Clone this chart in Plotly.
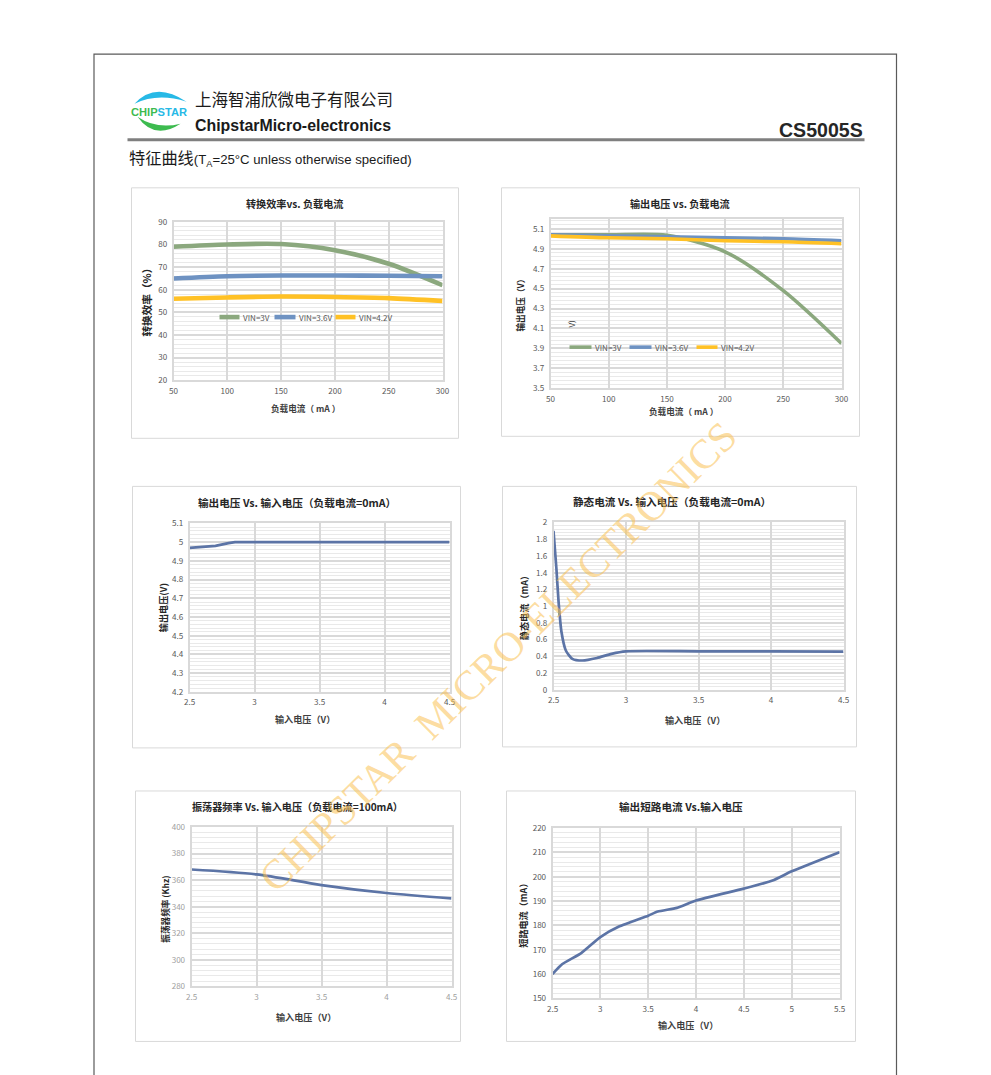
import plotly.graph_objects as go

W, H = 991, 1075
# the photographed page shows the figure inset by ~6.5 px and scaled by 978/991;
# map intended screen pixels to paper fractions accordingly
INSET = 6.5
SX = (W - 2 * INSET) / W


def px(x):
    return (x - INSET) / (W - 2 * INSET)


def py(y):
    return 1 - (y - INSET) / (H - 2 * INSET)


def fs(s):
    return s / SX


# ---------------- data ----------------
load_ma = [50, 100, 150, 200, 250, 300]
eff_vin3 = [79, 80, 80.2, 77.5, 71.5, 62]
eff_vin36 = [65, 66, 66.3, 66.3, 66.2, 66]
eff_vin42 = [56, 56.6, 57, 56.8, 56.3, 55]

vout_vin3 = [5.04, 5.04, 5.035, 4.87, 4.48, 3.95]
vout_vin36 = [5.04, 5.03, 5.02, 5.01, 5.0, 4.98]
vout_vin42 = [5.03, 5.01, 5.0, 4.98, 4.97, 4.95]

vin_line = [2.5, 2.6, 2.7, 2.8, 2.85, 3.0, 3.5, 4.0, 4.5]
vout_line = [4.97, 4.975, 4.98, 4.995, 5.0, 5.0, 5.0, 5.0, 5.0]

vin_iq = [2.5, 2.52, 2.535, 2.555, 2.585, 2.63, 2.7, 2.8, 2.9, 3.0, 3.5, 4.0, 4.5]
iq_ma = [1.9, 1.45, 1.05, 0.69, 0.47, 0.37, 0.35, 0.38, 0.43, 0.46, 0.46, 0.46, 0.455]

vin_osc = [2.5, 3.0, 3.5, 4.0, 4.5]
osc_khz = [368, 364.3, 356.3, 350.3, 346.3]

vin_sc = [2.5, 2.6, 2.8, 3.0, 3.2, 3.5, 3.6, 3.8, 4.0, 4.5, 4.8, 5.0, 5.5]
isc_ma = [160, 164, 168.6, 175.2, 179.6, 184, 185.7, 187.2, 190.2, 195.1, 198.4, 202.2, 210.1]

legend_names = ["VIN=3V", "VIN=3.6V", "VIN=4.2V"]

# ---------------- styles ----------------
CJK = "Noto Sans CJK SC"
GREEN = "#8BA87E"
BLUE = "#6E92C2"
GOLD = "#FFC125"
SLATE = "#5C74A6"
MAJ = "#d9d9d9"
MIN = "#e9e9e9"
TICK = "#595959"

fig = go.Figure()


def add_line(i, x, y, color, width, smoothing=0.8, shape="spline"):
    fig.add_trace(go.Scatter(
        x=x, y=y, mode="lines", xaxis="x" if i == 1 else f"x{i}",
        yaxis="y" if i == 1 else f"y{i}",
        line=dict(color=color, width=width, shape=shape, smoothing=smoothing),
        showlegend=False, hoverinfo="skip"))


add_line(1, load_ma, eff_vin3, GREEN, 4.6)
add_line(1, load_ma, eff_vin36, BLUE, 4.6)
add_line(1, load_ma, eff_vin42, GOLD, 4.6)
add_line(2, load_ma, vout_vin3, GREEN, 3.6)
add_line(2, load_ma, vout_vin36, BLUE, 3.6)
add_line(2, load_ma, vout_vin42, GOLD, 3.6)
add_line(3, vin_line, vout_line, SLATE, 2.7, shape="linear")
add_line(4, vin_iq, iq_ma, SLATE, 2.7, smoothing=0.6)
add_line(5, vin_osc, osc_khz, SLATE, 2.7)
add_line(6, vin_sc, isc_ma, SLATE, 2.7, smoothing=0.5)

layout = dict(
    width=W, height=H, margin=dict(l=0, r=0, t=0, b=0, pad=0),
    paper_bgcolor="white", plot_bgcolor="white", showlegend=False,
    font=dict(family=CJK),
)


def axes(i, xpx, ypx, xr, xd, yr, yd, ymin, tickcolor=TICK):
    sx = "" if i == 1 else str(i)
    xa = dict(
        domain=[px(xpx[0]), px(xpx[1])], range=xr, dtick=xd, tick0=xr[0],
        anchor="y" + sx, showgrid=True, gridcolor=MAJ, gridwidth=1.5,
        showline=True, linecolor=MAJ, linewidth=1.5, mirror=True,
        zeroline=False, ticks="", tickfont=dict(family=CJK, size=fs(8), color=tickcolor),
        ticklabelstandoff=2,
    )
    ya = dict(
        domain=[py(ypx[1]), py(ypx[0])], range=yr, dtick=yd, tick0=yr[0],
        anchor="x" + sx, showgrid=True, gridcolor=MAJ, gridwidth=1.5,
        showline=True, linecolor=MAJ, linewidth=1.5, mirror=True,
        zeroline=False, ticks="", tickfont=dict(family=CJK, size=fs(8), color=tickcolor),
        minor=dict(dtick=ymin, tick0=yr[0], showgrid=True, gridcolor=MIN, gridwidth=1),
        ticklabelstandoff=3,
    )
    layout["xaxis" + sx] = xa
    layout["yaxis" + sx] = ya


axes(1, (174, 443), (222, 380), [50, 300], 50, [20, 90], 10, 2)
axes(2, (551, 842), (219, 388), [50, 300], 50, [3.5, 5.2], 0.2, 0.04)
axes(3, (190, 450), (523, 691), [2.5, 4.5], 0.5, [4.2, 5.1], 0.1, 0.02)
axes(4, (554, 844), (522, 689), [2.5, 4.5], 0.5, [0, 2], 0.2, 0.04)
axes(5, (192, 452), (826, 985), [2.5, 4.5], 0.5, [280, 400], 20, 4, tickcolor="#a0a0a0")
axes(6, (553, 840), (827, 997), [2.5, 5.5], 0.5, [150, 220], 10, 2)

shapes = []
annotations = []


def rect(x0, y0, x1, y1, color=MAJ, width=1):
    shapes.append(dict(type="rect", xref="paper", yref="paper",
                       x0=px(x0), x1=px(x1), y0=py(y1), y1=py(y0),
                       line=dict(color=color, width=width), layer="below"))


def text(x, y, s, size=9, color="#262626", bold=False, xanchor="center",
         yanchor="middle", angle=0, family=CJK):
    annotations.append(dict(
        x=px(x), y=py(y), xref="paper", yref="paper", showarrow=False,
        text=("<b>%s</b>" % s) if bold else s, xanchor=xanchor, yanchor=yanchor,
        textangle=angle, font=dict(family=family, size=fs(size), color=color)))


# page border
shapes.append(dict(type="rect", xref="paper", yref="paper",
                   x0=px(94.5), x1=px(897), y0=py(1095), y1=py(54.5),
                   line=dict(color="#5a5a5a", width=1.2), layer="below"))
# header rule
shapes.append(dict(type="line", xref="paper", yref="paper",
                   x0=px(128), x1=px(865), y0=py(140), y1=py(140),
                   line=dict(color="#7f7f7f", width=3)))


def path_px(pts):
    out = []
    for cmd, coords in pts:
        vals = []
        for k in range(0, len(coords), 2):
            vals.append("%.5f,%.5f" % (px(coords[k]), py(coords[k + 1])))
        out.append(cmd + " " + " ".join(vals))
    return " ".join(out) + " Z"


# logo arcs
shapes.append(dict(type="path", xref="paper", yref="paper",
                   path=path_px([("M", (135, 104)), ("Q", (156, 81, 187, 102)),
                                 ("Q", (158, 93, 135, 104))]),
                   fillcolor="#27b9e6", line=dict(width=0)))
shapes.append(dict(type="path", xref="paper", yref="paper",
                   path=path_px([("M", (138, 117)), ("Q", (155, 141, 181, 124)),
                                 ("Q", (157, 130, 138, 117))]),
                   fillcolor="#3dbb4f", line=dict(width=0)))
text(159, 112, "<span style='color:#3dbb4f'>CHIP</span><span style='color:#27b9e6'>STAR</span>",
     size=11, bold=True, family="Liberation Sans")

text(193, 113.5, "上海智浦欣微电子有限公司", size=16.3, color="#1a1a1a",
     xanchor="left", yanchor="bottom")
text(193, 115.5, "ChipstarMicro-electronics", size=15.7, color="#1a1a1a", bold=True,
     xanchor="left", yanchor="top", family="Liberation Sans")
text(865, 130, "CS5005S", size=19.3, color="#262626", bold=True, xanchor="right",
     family="Liberation Sans")
text(127, 157, "特征曲线<span style='font-size:%.1fpx;font-family:Liberation Sans'>(T<sub>A</sub>=25°C unless otherwise specified)</span>" % fs(13),
     size=16, color="#1a1a1a", xanchor="left")

# chart frames
rect(132, 188, 459, 438)
rect(502, 188, 860, 436)
rect(133, 486, 461, 747)
rect(503, 486, 857, 746)
rect(136, 790, 461, 1040)
rect(507, 790, 856, 1040)

# chart 1 texts
text(295, 204, "转换效率vs. 负载电流", size=10, bold=True)
text(306, 408, "负载电流（ mA ）", size=8.5, bold=True, color="#404040")
text(147, 300, "转换效率（%）", size=10.5, bold=True, angle=-90)
# chart 2 texts
text(680, 204, "输出电压 vs. 负载电流", size=10, bold=True)
text(684, 411, "负载电流（ mA ）", size=8.5, bold=True, color="#404040")
text(521, 303, "输出电压（V）", size=8.5, bold=True, angle=-90)
text(572, 324, "V)", size=8, color="#404040", angle=-90)
# chart 3 texts
text(297, 502, "输出电压 Vs. 输入电压（负载电流=0mA）", size=10.5, bold=True)
text(305, 718, "输入电压（V）", size=9, bold=True, color="#404040")
text(163, 607, "输出电压(V)", size=9, bold=True, angle=-90)
# chart 4 texts
text(672, 501, "静态电流 Vs. 输入电压（负载电流=0mA）", size=10.5, bold=True)
text(695, 719, "输入电压（V）", size=9, bold=True, color="#404040")
text(524, 605, "静态电流（mA）", size=9, bold=True, angle=-90)
# chart 5 texts
text(298, 805, "振荡器频率 Vs. 输入电压（负载电流=100mA）", size=10, bold=True)
text(306, 1016, "输入电压（V）", size=9, bold=True, color="#404040")
text(166, 908, "振荡器频率 (Khz)", size=8.5, bold=True, angle=-90)
# chart 6 texts
text(681, 805, "输出短路电流 Vs.输入电压", size=10.5, bold=True)
text(688, 1024, "输入电压（V）", size=9, bold=True, color="#404040")
text(524, 912, "短路电流（mA）", size=9, bold=True, angle=-90)

# manual legends
leg1 = [(220, 240, GREEN), (275, 296, BLUE), (336, 356, GOLD)]
for (a, b, c), name in zip(leg1, legend_names):
    shapes.append(dict(type="line", xref="paper", yref="paper",
                       x0=px(a), x1=px(b), y0=py(317), y1=py(317),
                       line=dict(color=c, width=4.6)))
    text(b + 1, 317, name, size=8, color=TICK, xanchor="left")
leg2 = [(570, 592, GREEN), (630, 652, BLUE), (697, 718, GOLD)]
for (a, b, c), name in zip(leg2, legend_names):
    shapes.append(dict(type="line", xref="paper", yref="paper",
                       x0=px(a), x1=px(b), y0=py(347), y1=py(347),
                       line=dict(color=c, width=3.6)))
    text(b + 1, 347, name, size=8, color=TICK, xanchor="left")

# watermark
annotations.append(dict(
    x=px(498), y=py(656), xref="paper", yref="paper", showarrow=False,
    text="CHIPSTAR  MICRO-ELECTRONICS", textangle=-44.5,
    xanchor="center", yanchor="middle",
    font=dict(family="Liberation Serif", size=fs(41), color="rgba(250,192,80,0.55)")))

layout["shapes"] = shapes
layout["annotations"] = annotations
fig.update_layout(**layout)
fig.write_html(
    "out.html",
    config={"displayModeBar": False},
    post_script="document.body.style.margin='0';document.body.style.padding='0';"
                "document.body.style.overflow='hidden';",
)
